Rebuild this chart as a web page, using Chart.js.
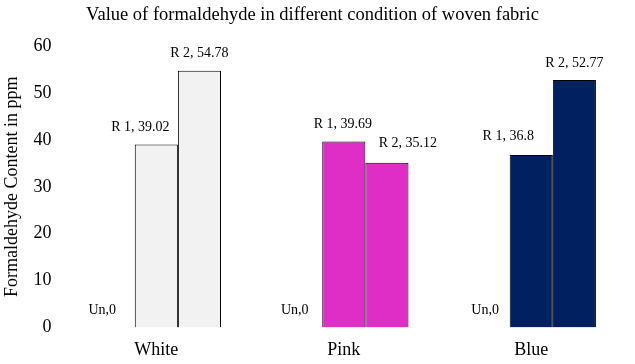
<!DOCTYPE html>
<html><head><meta charset="utf-8">
<script src="https://cdn.jsdelivr.net/npm/chart.js@4/dist/chart.umd.min.js"></script>
<style>html,body{margin:0;padding:0;background:#fff}#wrap{width:635px;height:364px}</style>
</head><body><div id="wrap"><canvas id="c" width="635" height="364"></canvas></div>
<script>
const categories = ["White", "Pink", "Blue"];
const seriesNames = ["Un", "R 1", "R 2"];
const unValues = [0, 0, 0];
const r1Values = [39.02, 39.69, 36.8];
const r2Values = [54.78, 35.12, 52.77];
const yTicks = [0, 10, 20, 30, 40, 50, 60];
const barColors = ["#F2F2F2", "#DE2EC6", "#002060"];

const FONT = '"Liberation Serif", "Times New Roman", serif';

// label nudges (pixels) per dataset/category, to mimic the reference label placement
const labelNudge = {
  0: [[-11, 0], [-6, 0], [-3, 0]],
  1: [[-16, 0], [-1, 0], [-23, -2]],
  2: [[0, 0], [21, -2], [0, 0]]
};

const labelPlugin = {
  id: 'barLabels',
  afterDatasetsDraw(chart) {
    const ctx = chart.ctx;
    ctx.save();
    ctx.font = '14px "Liberation Serif"';
    ctx.fillStyle = "#000";
    ctx.textAlign = "center";
    ctx.textBaseline = "middle";
    chart.data.datasets.forEach((ds, di) => {
      const meta = chart.getDatasetMeta(di);
      meta.data.forEach((bar, i) => {
        const v = ds.data[i];
        const txt = v === 0 ? ds.label + "," + v : ds.label + ", " + v;
        const n = labelNudge[di][i];
        ctx.fillText(txt, bar.x + n[0], bar.y - 17 + n[1]);
      });
    });
    ctx.restore();
  }
};

new Chart(document.getElementById('c'), {
  type: 'bar',
  data: {
    labels: categories,
    datasets: [
      { label: seriesNames[0], data: unValues, backgroundColor: barColors, borderColor: "#000", borderWidth: 1 },
      { label: seriesNames[1], data: r1Values, backgroundColor: barColors, borderColor: "#000", borderWidth: 1 },
      { label: seriesNames[2], data: r2Values, backgroundColor: barColors, borderColor: "#000", borderWidth: 1 }
    ]
  },
  options: {
    responsive: false,
    animation: false,
    devicePixelRatio: 1,
    layout: { padding: { left: 0, right: 10, top: 12, bottom: -9 } },
    datasets: { bar: { barPercentage: 1.0, categoryPercentage: 0.69 } },
    plugins: {
      legend: { display: false },
      tooltip: { enabled: false },
      title: {
        display: true,
        text: "Value of formaldehyde in different condition of woven fabric",
        color: "#000",
        font: { family: FONT, size: 18.5, weight: 'normal' },
        padding: { top: -8, bottom: 20 }
      }
    },
    scales: {
      x: {
        grid: { display: false, drawTicks: false },
        border: { display: false },
        ticks: { color: "#000", font: { family: FONT, size: 18 }, padding: 12 }
      },
      y: {
        min: 0, max: 60,
        afterBuildTicks(scale) { scale.ticks = yTicks.map(v => ({ value: v })); },
        grid: { display: false, drawTicks: false },
        border: { display: false },
        title: { display: true, text: "Formaldehyde Content in ppm", color: "#000", font: { family: FONT, size: 18 }, padding: { top: 1, bottom: 0 } },
        ticks: { color: "#000", font: { family: FONT, size: 18 }, padding: 11 }
      }
    }
  },
  plugins: [labelPlugin]
});
</script>
</body></html>
